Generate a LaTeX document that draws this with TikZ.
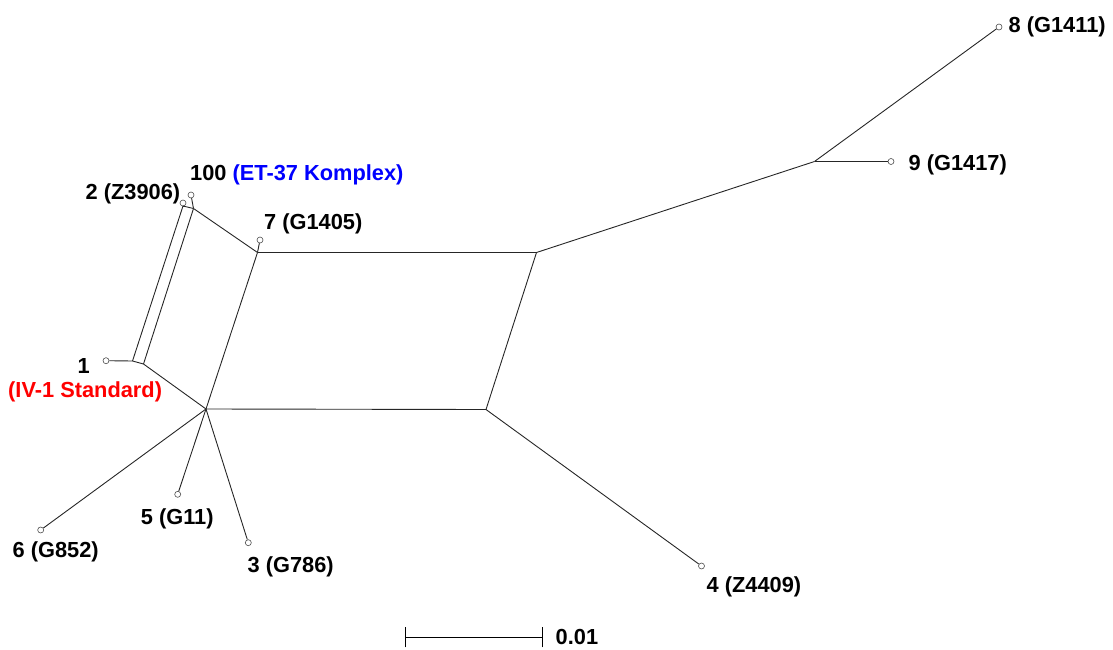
\documentclass[tikz,border=0pt]{standalone}
\usepackage{fontspec}
\setmainfont{Liberation Sans}
\begin{document}
\begin{tikzpicture}[x=1pt,y=-1pt,
  leaf/.style={circle,draw=black!70,line width=0.6pt,minimum size=6pt,inner sep=0pt},
  edge/.style={draw=black!85,line width=0.9pt},
  lab/.style={anchor=base west,inner sep=0pt,font=\fontsize{21.8}{25}\selectfont\bfseries}]
\useasboundingbox (0,0) rectangle (1113,650);
% junctions
\coordinate (a) at (132.5,361);
\coordinate (b) at (143.5,364);
\coordinate (p) at (183,206);
\coordinate (q) at (193.5,208.5);
\coordinate (r) at (257.5,252.5);
\coordinate (m) at (206,409);
\coordinate (s) at (536.5,252.5);
\coordinate (t) at (486,409.5);
\coordinate (u) at (814.5,161.5);
% leaves
\node[leaf] (l1) at (106,360.7) {};
\node[leaf] (l2) at (183,203) {};
\node[leaf] (l100) at (191,195) {};
\node[leaf] (l7) at (260,240) {};
\node[leaf] (l8) at (999,27) {};
\node[leaf] (l9) at (891,161.5) {};
\node[leaf] (l4) at (701.5,566) {};
\node[leaf] (l6) at (40.7,530) {};
\node[leaf] (l5) at (177.7,494.3) {};
\node[leaf] (l3) at (248.3,542.7) {};
% edges
\draw[edge] (l1) -- (a);
\draw[edge] (a) -- (b);
\draw[edge] (a) -- (p);
\draw[edge] (b) -- (q);
\draw[edge] (p) -- (q);
\draw[edge] (l2) -- (p);
\draw[edge] (l100) -- (q);
\draw[edge] (q) -- (r);
\draw[edge] (b) -- (m);
\draw[edge] (r) -- (m);
\draw[edge] (l7) -- (r);
\draw[edge] (r) -- (s);
\draw[edge] (m) -- (t);
\draw[edge] (s) -- (t);
\draw[edge] (s) -- (u);
\draw[edge] (u) -- (l8);
\draw[edge] (u) -- (l9);
\draw[edge] (t) -- (l4);
\draw[edge] (m) -- (l6);
\draw[edge] (m) -- (l5);
\draw[edge] (m) -- (l3);
% labels
\node[lab] (t8) at (1008.5,32.5) {8 (G1411)};
\node[lab] (t9) at (908.5,170.8) {9 (G1417)};
\node[lab] (t100) at (190,180.8) {100 \textcolor{blue}{(ET-37 Komplex)}};
\node[lab] (t2) at (85.5,199.8) {2 (Z3906)};
\node[lab] (t7) at (264,229.2) {7 (G1405)};
\node[lab] (t1) at (77.5,373.2) {1};
\node[lab,text=red] (t1b) at (8,397.5) {(IV-1 Standard)};
\node[lab] (t5) at (140.7,524.2) {5 (G11)};
\node[lab] (t6) at (12.5,557.5) {6 (G852)};
\node[lab] (t3) at (247.5,572.5) {3 (G786)};
\node[lab] (t4) at (706.5,592.5) {4 (Z4409)};
% scale bar
\coordinate (sb1) at (405.7,637.3);
\coordinate (sb2) at (542.3,637.3);
\draw[line width=0.9pt] (sb1) -- (sb2);
\draw[line width=0.9pt] ([yshift=-10pt]sb1) -- ([yshift=10pt]sb1);
\draw[line width=0.9pt] ([yshift=-10pt]sb2) -- ([yshift=10pt]sb2);
\node[lab] (tsb) at (555.5,644.2) {0.01};
\end{tikzpicture}
\end{document}
